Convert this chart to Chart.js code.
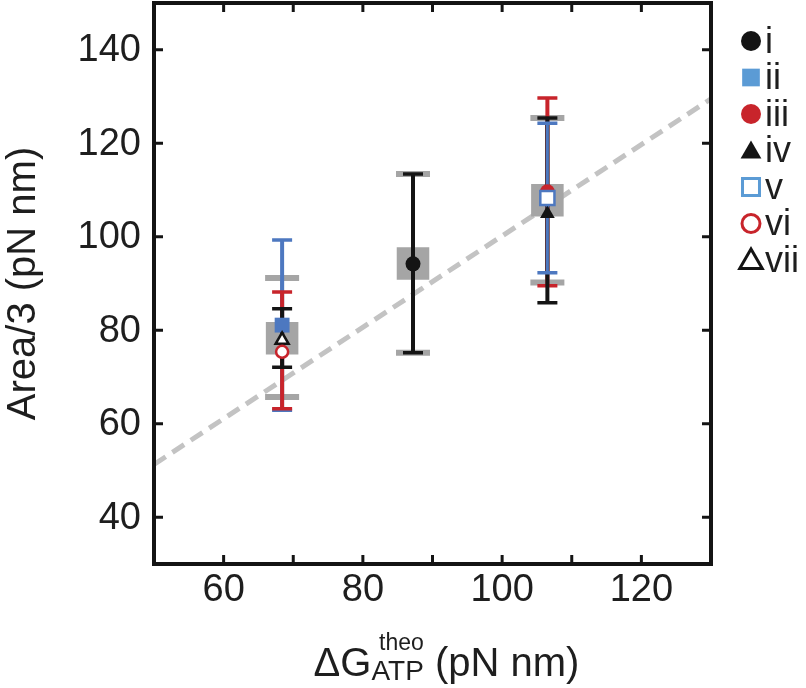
<!DOCTYPE html>
<html>
<head>
<meta charset="utf-8">
<script src="https://cdn.jsdelivr.net/npm/chart.js@4.4.1/dist/chart.umd.min.js"></script>
<style>
  body { margin: 0; background: #fff; }
  #wrap { width: 806px; height: 688px; }
</style>
</head>
<body>
<div id="wrap"><canvas id="chart" width="806" height="688"></canvas></div>
<script>
// data
const seriesNames = ['i', 'ii', 'iii', 'iv', 'v', 'vi', 'vii'];
const seriesX = [87.2, 68.4, 106.5, 106.5, 106.5, 68.4, 68.4];
const seriesY = [94.2, 81.1, 109.6, 104.9, 108.3, 75.4, 77.9];
const seriesLow = [75.2, 62.9, 89.5, 85.9, 92.3, 63.2, 72.1];
const seriesHigh = [113.4, 99.3, 129.7, 125.4, 124.3, 88.2, 84.6];

const groupX = [68.4, 87.2, 106.5];
const groupMean = [78.3, 94.3, 107.8];
const groupLow = [65.7, 75.2, 90.2];
const groupHigh = [91.2, 113.4, 125.4];

const fitX = [50, 130];
const fitY = [51.3, 129.5];

const xTicks = [60, 80, 100, 120];
const xMinorTicks = [70, 90, 110];
const yTicks = [40, 60, 80, 100, 120, 140];

// styles
const TEXT = '#1e1e1e';
const BLACK = '#141414';
const BLUE = '#4d78c0';
const RED = '#c8242b';
const GRAY = '#a5a5a5';
const FONT = "'Liberation Sans', Arial, sans-serif";
const TICK_FONT = '38px ' + FONT;

const markerStyle = {
    i:   { style: 'circle',   color: BLACK, fill: true,  r: 7.5 },
    ii:  { style: 'rect',     color: BLUE,  fill: true,  r: 10.5 },
    iii: { style: 'circle',   color: RED,   fill: true,  r: 7.5 },
    iv:  { style: 'triangle', color: BLACK, fill: true,  r: 8.5 },
    v:   { style: 'rect',     color: BLUE,  fill: false, r: 10 },
    vi:  { style: 'circle',   color: RED,   fill: false, r: 6 },
    vii: { style: 'triangle', color: BLACK, fill: false, r: 7.5 }
};
// higher order is drawn further back
const drawOrder = { iii: 7, iv: 6, v: 5, ii: 4, vii: 3, vi: 2, i: 1 };
const barOrder = ['ii', 'vi', 'vii', 'iii', 'iv', 'v', 'i'];

const datasets = [
    {
        type: 'line',
        label: 'fit',
        data: fitX.map((x, k) => ({ x, y: fitY[k] })),
        borderColor: '#c3c3c3',
        borderWidth: 5,
        borderDash: [14, 8],
        pointRadius: 0,
        order: 10
    },
    {
        label: 'mean',
        isGroup: true,
        data: groupX.map((x, k) => ({ x, y: groupMean[k] })),
        low: groupLow,
        high: groupHigh,
        pointStyle: 'rect',
        pointRadius: 23,
        backgroundColor: GRAY,
        borderWidth: 0,
        order: 9
    },
    ...seriesNames.map((name, k) => {
        const m = markerStyle[name];
        return {
            label: name,
            data: [{ x: seriesX[k], y: seriesY[k] }],
            low: [seriesLow[k]],
            high: [seriesHigh[k]],
            pointStyle: m.style,
            pointRadius: m.r,
            backgroundColor: m.fill ? m.color : '#ffffff',
            borderColor: m.color,
            borderWidth: m.fill ? 0 : 2.5,
            order: drawOrder[name]
        };
    })
];

function drawBars(ctx, xs, ys, ds, color, lw, capW, capLw) {
    ds.data.forEach((p, k) => {
        const px = xs.getPixelForValue(p.x);
        const top = ys.getPixelForValue(ds.high[k]);
        const bot = ys.getPixelForValue(ds.low[k]);
        ctx.strokeStyle = color;
        ctx.lineWidth = lw;
        ctx.beginPath();
        ctx.moveTo(px, top);
        ctx.lineTo(px, bot);
        ctx.stroke();
        ctx.lineWidth = capLw;
        ctx.beginPath();
        ctx.moveTo(px - capW / 2, top);
        ctx.lineTo(px + capW / 2, top);
        ctx.moveTo(px - capW / 2, bot);
        ctx.lineTo(px + capW / 2, bot);
        ctx.stroke();
    });
}

const errorBars = {
    id: 'errorBars',
    afterDatasetDraw(chart, args) {
        const ds = chart.data.datasets[args.index];
        if (!ds.isGroup) return;
        const ctx = chart.ctx;
        const xs = chart.scales.x, ys = chart.scales.y;
        ctx.save();
        drawBars(ctx, xs, ys, ds, GRAY, 4, 34, 6);
        barOrder.forEach(name => {
            const d = chart.data.datasets.find(s => s.label === name);
            drawBars(ctx, xs, ys, d, d.borderColor, name === 'v' ? 3 : 4, 20, 3.5);
        });
        ctx.restore();
    }
};

// box round the plot, inward ticks on all sides, y tick labels
const frame = {
    id: 'frame',
    afterDatasetsDraw(chart) {
        const { ctx, chartArea: a, scales: { x, y } } = chart;
        const tl = 9;
        ctx.save();
        ctx.strokeStyle = BLACK;
        ctx.lineWidth = 3;
        ctx.beginPath();
        x.ticks.forEach(t => {
            const px = x.getPixelForValue(t.value);
            ctx.moveTo(px, a.bottom); ctx.lineTo(px, a.bottom - tl);
            ctx.moveTo(px, a.top); ctx.lineTo(px, a.top + tl);
        });
        y.ticks.forEach(t => {
            const py = y.getPixelForValue(t.value);
            ctx.moveTo(a.left, py); ctx.lineTo(a.left + tl, py);
            ctx.moveTo(a.right, py); ctx.lineTo(a.right - tl, py);
        });
        ctx.stroke();
        ctx.lineWidth = 4;
        ctx.strokeRect(a.left, a.top, a.right - a.left, a.bottom - a.top);

        ctx.fillStyle = TEXT;
        ctx.font = TICK_FONT;
        ctx.textAlign = 'right';
        ctx.textBaseline = 'middle';
        y.ticks.forEach(t => {
            ctx.fillText(String(t.value), a.left - 13, y.getPixelForValue(t.value) + 1);
        });
        ctx.restore();
    }
};

const legendColors = { i: BLACK, ii: '#5b9bd5', iii: RED, iv: BLACK, v: '#5b9bd5', vi: RED, vii: BLACK };
const legendRadius = { i: 10, ii: 12.5, iii: 10, iv: 12, v: 12, vi: 9, vii: 13 };

const sideLegend = {
    id: 'sideLegend',
    afterDraw(chart) {
        const ctx = chart.ctx;
        const a = chart.chartArea;
        ctx.save();
        ctx.font = '36px ' + FONT;
        ctx.textBaseline = 'middle';
        ctx.textAlign = 'left';
        seriesNames.forEach((name, k) => {
            const m = markerStyle[name];
            const cx = a.right + 40, cy = a.top + 38 + k * 36.5;
            ctx.fillStyle = m.fill ? legendColors[name] : '#ffffff';
            ctx.strokeStyle = legendColors[name];
            ctx.lineWidth = 3;
            Chart.helpers.drawPoint(ctx, {
                pointStyle: m.style,
                rotation: 0,
                radius: legendRadius[name],
                borderWidth: m.fill ? 0 : 3
            }, cx, cy + (m.style === 'triangle' ? 2 : 0));
            ctx.fillStyle = TEXT;
            ctx.fillText(name, cx + 14, cy + 2);
        });
        ctx.restore();
    }
};

const xTitle = {
    id: 'xTitle',
    afterDraw(chart) {
        const ctx = chart.ctx;
        const a = chart.chartArea;
        const big = '40px ' + FONT, sup = '23px ' + FONT, sub = '28px ' + FONT;
        ctx.save();
        ctx.fillStyle = TEXT;
        ctx.textBaseline = 'alphabetic';
        ctx.textAlign = 'left';
        ctx.font = big;
        const w1 = ctx.measureText('\u0394G').width;
        const w3 = ctx.measureText(' (pN nm)').width;
        ctx.font = sub;
        const wSub = ctx.measureText('ATP').width;
        ctx.font = sup;
        const wSup = ctx.measureText('theo').width;
        const w2 = Math.max(wSub, wSup);
        const total = w1 + w2 + w3;
        const base = a.bottom + 112;
        let x0 = (a.left + a.right) / 2 + 14 - total / 2;
        ctx.font = big;
        ctx.fillText('\u0394G', x0, base);
        ctx.font = sup;
        ctx.fillText('theo', x0 + w1 + (w2 - wSup), base - 26);
        ctx.font = sub;
        ctx.fillText('ATP', x0 + w1, base + 4);
        ctx.font = big;
        ctx.fillText(' (pN nm)', x0 + w1 + w2, base);
        ctx.restore();
    }
};

Chart.defaults.font.family = FONT;
Chart.defaults.color = TEXT;

new Chart(document.getElementById('chart'), {
    type: 'scatter',
    data: { datasets },
    options: {
        responsive: false,
        animation: false,
        layout: { autoPadding: false, padding: { top: 3, right: 95, left: 0, bottom: 0 } },
        plugins: {
            legend: { display: false },
            tooltip: { enabled: false }
        },
        scales: {
            x: {
                type: 'linear',
                min: 50,
                max: 130,
                afterBuildTicks(scale) {
                    scale.ticks = xTicks.concat(xMinorTicks).sort((p, q) => p - q).map(v => ({ value: v }));
                },
                afterFit(scale) { scale.height = 124; },
                grid: { display: false, drawTicks: false },
                border: { display: false },
                ticks: {
                    padding: 4,
                    font: { size: 38 },
                    color: TEXT,
                    maxRotation: 0,
                    autoSkip: false,
                    callback: v => xTicks.includes(v) ? String(v) : ''
                }
            },
            y: {
                type: 'linear',
                min: 30,
                max: 150,
                afterBuildTicks(scale) {
                    scale.ticks = yTicks.map(v => ({ value: v }));
                },
                afterFit(scale) { scale.width = 154; },
                grid: { display: false, drawTicks: false },
                border: { display: false },
                ticks: { display: false },
                title: {
                    display: true,
                    text: 'Area/3 (pN nm)',
                    font: { size: 40 },
                    color: TEXT,
                    padding: 0
                }
            }
        }
    },
    plugins: [errorBars, frame, sideLegend, xTitle]
});
</script>
</body>
</html>
